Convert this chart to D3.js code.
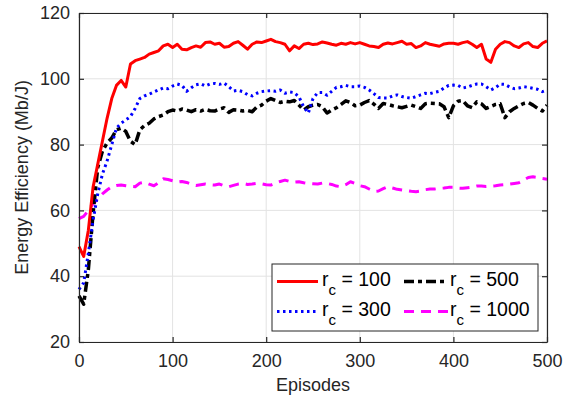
<!DOCTYPE html>
<html>
<head>
<meta charset="utf-8">
<script src="https://cdn.jsdelivr.net/npm/d3@7"></script>
<style>
  html, body { margin: 0; padding: 0; background: #fff; }
  svg { display: block; font-family: "Liberation Sans", Arial, Helvetica, sans-serif; }
</style>
</head>
<body>
<svg id="chart" width="569" height="398"></svg>
<script>
// ---- data (sampled every 5 episodes) ----
const episodes = d3.range(0, 501, 5);
const rc100 = [49,46,54,67,74,81,88,94,98,99.5,97.5,104.5,105.5,106,106.5,107.5,108,108.5,110,110.5,
  109.5,110.5,109,108.8,109.5,110,109.6,111,111.2,110.5,110.8,109.6,109.8,110.8,111.3,110.2,109,110.5,111.2,111,
  111.5,112,111.3,111,110.5,108.5,110,109.2,110.5,110.8,110.4,110.6,111.2,110.9,110.5,110.2,110.8,110.5,111,110.6,
  111,110.5,110,109.8,109.5,110.5,110.9,110.6,111,111.4,110.5,110.7,109.5,110,111,110.5,110.2,109.9,110.6,110.8,
  110.8,110.5,111,111.3,110.5,109.5,110.5,106,105,109,110.5,111.3,111,110,109.5,110.6,111,109.8,109.5,110.8,111.5];
const rc300 = [36,38,47,57,65,71,75,80,85,86.5,87.5,88.5,91,94,94.8,95.3,96,96.6,97.2,97,
  97.8,98.4,98,96.2,97.3,98.2,98.5,97.8,98.4,98.6,98.3,98.7,97.6,96.3,96.5,96.1,95.2,94.8,95.6,96.1,
  96.3,96.4,96.2,96.6,95.6,96,95.8,94.5,91.5,89.6,94,95.8,95.8,95,96.2,97.4,97.6,98,97.6,97.6,
  97.8,97.4,96.6,95.5,94.3,94.2,94.2,94.8,95.1,94.6,94.3,94.1,94.6,95.1,95.6,95.5,95.9,96.2,97.2,98,
  98.1,98,97.2,97.5,98,98.4,98.4,97.6,96.6,97.3,98.4,98.3,97.5,97,97.2,97.6,97.4,97.1,96.8,96.1,96.6];
const rc500 = [34,31.5,42,59,73,78,80.5,82,84.5,85,84,81,80,84.5,85.8,86.5,87.8,88.5,89,90,
  90.5,90.2,90.8,90.5,90,90.6,90.2,90.7,90.3,90.2,90.8,91.2,89.8,90.6,90.5,90.2,90.4,90,91.4,92,
  93.2,94,93.4,92.8,93.2,93,93.4,92,90.5,91.5,92,92.2,91.5,89.6,90.5,91.2,92.2,93.3,92.8,91.8,
  92,92.8,93.4,92.3,91,92.5,92.2,91.8,91.5,91.2,91.6,92,91.5,91,92.4,92.6,92.5,92.4,91.5,88.2,
  91.8,93.2,93.4,91.8,91.2,93,92.4,91,91.6,92.2,92.4,88.2,90,91,91.8,92.5,92.8,92,91,90.2,92];
const rc1000 = [57.5,58.2,60,62,63.5,65,66.2,67.2,67.6,67.7,67.5,67.3,67.2,68.3,68.6,68,67.5,68.4,69.6,69.4,
  69,68.6,68.8,68.5,68,67.6,67.8,68,67.8,67.7,68,67.5,67.2,67.6,68,68.2,67.9,68,68.2,68.1,
  67.8,67.7,68.3,68.8,69.2,68.8,68.6,68.7,68.4,68.2,68.1,68,68.3,68.2,67.9,67.4,67.2,67.8,68.7,68.2,
  67.5,67.2,66.5,65.8,65.9,66.6,67.2,66.8,66.4,66.2,66,65.8,65.7,65.9,66.3,66.5,66.5,66.7,66.8,67,
  67,66.8,66.7,66.9,67.1,67.4,67.4,67.3,67.4,67.5,67.7,67.8,68,68.2,68.4,69.2,70,70.2,70,69.7,69.5];
const seriesNames = ["100", "300", "500", "1000"];
const xTicks = [0, 100, 200, 300, 400, 500];
const yTicks = [20, 40, 60, 80, 100, 120];

// ---- layout ----
const svg = d3.select("#chart");
const margin = {left: 79, right: 22, top: 13, bottom: 56};
const W = 569, H = 398;
const iw = W - margin.left - margin.right, ih = H - margin.top - margin.bottom;
const x = d3.scaleLinear().domain([0, 500]).range([0, iw]);
const y = d3.scaleLinear().domain([20, 120]).range([ih, 0]);
const axisColor = "#262626";
const g = svg.append("g").attr("transform", `translate(${margin.left},${margin.top})`);

// grid
g.append("g").selectAll("line").data(xTicks).join("line")
  .attr("x1", d => x(d)).attr("x2", d => x(d)).attr("y1", 0).attr("y2", ih)
  .attr("stroke", "#e3e3e3").attr("stroke-width", 1);
g.append("g").selectAll("line").data(yTicks).join("line")
  .attr("y1", d => y(d)).attr("y2", d => y(d)).attr("x1", 0).attr("x2", iw)
  .attr("stroke", "#e3e3e3").attr("stroke-width", 1);

// series
const styles = [
  {data: rc100, color: "#ff0000", dash: null, w: 3},
  {data: rc300, color: "#0000ff", dash: "2.5,3.5", w: 3},
  {data: rc500, color: "#000000", dash: "10,4,4,4", w: 3.5},
  {data: rc1000, color: "#ff00ff", dash: "10,7", w: 3}
];
const line = d3.line().x((d, i) => x(episodes[i])).y(d => y(d));
[3, 2, 1, 0].forEach(k => {
  const s = styles[k];
  g.append("path").datum(s.data).attr("d", line)
    .attr("fill", "none").attr("stroke", s.color).attr("stroke-width", s.w)
    .attr("stroke-dasharray", s.dash).attr("stroke-linejoin", "round");
});

// axes
const fs = 18;
const xAxis = d3.axisBottom(x).tickValues(xTicks).tickSizeInner(-5).tickSizeOuter(0).tickPadding(12);
const yAxis = d3.axisLeft(y).tickValues(yTicks).tickSizeInner(-5).tickSizeOuter(0).tickPadding(9);
const gx = g.append("g").attr("transform", `translate(0,${ih})`).call(xAxis);
const gy = g.append("g").call(yAxis);
const gxt = g.append("g").call(d3.axisTop(x).tickValues(xTicks).tickSizeInner(-5).tickSizeOuter(0).tickFormat(""));
const gyr = g.append("g").attr("transform", `translate(${iw},0)`).call(d3.axisRight(y).tickValues(yTicks).tickSizeInner(-5).tickSizeOuter(0).tickFormat(""));
[gx, gy, gxt, gyr].forEach(a => {
  a.select(".domain").attr("stroke", axisColor).attr("stroke-width", 1.2);
  a.selectAll(".tick line").attr("stroke", axisColor).attr("stroke-width", 1.2);
  a.selectAll("text").attr("fill", axisColor).attr("font-size", fs).attr("font-family", "Liberation Sans, Arial, sans-serif");
});

// axis labels
svg.append("text").attr("x", margin.left + iw / 2).attr("y", 391)
  .attr("text-anchor", "middle").attr("font-size", fs).attr("fill", axisColor)
  .text("Episodes");
svg.append("text").attr("transform", `translate(28,${margin.top + ih / 2}) rotate(-90)`)
  .attr("text-anchor", "middle").attr("font-size", fs).attr("fill", axisColor)
  .text("Energy Efficiency (Mb/J)");

// legend
const lg = svg.append("g");
lg.append("rect").attr("x", 272).attr("y", 264).attr("width", 266).attr("height", 67)
  .attr("fill", "#fff").attr("stroke", axisColor).attr("stroke-width", 1);
const legPos = [
  {lx1: 277, lx2: 318, tx: 322, ly: 281.5},
  {lx1: 277, lx2: 318, tx: 322, ly: 311.5},
  {lx1: 404, lx2: 448, tx: 450, ly: 281.5},
  {lx1: 404, lx2: 448, tx: 450, ly: 311.5}
];
styles.forEach((s, i) => {
  const p = legPos[i];
  lg.append("line").attr("x1", p.lx1).attr("x2", p.lx2).attr("y1", p.ly).attr("y2", p.ly)
    .attr("stroke", s.color).attr("stroke-width", s.w).attr("stroke-dasharray", s.dash);
  const t = lg.append("text").attr("x", p.tx).attr("y", p.ly + 4).attr("font-size", 19.5).attr("fill", "#000");
  t.append("tspan").text("r");
  t.append("tspan").attr("font-size", 15).attr("dy", 9).text("c");
  t.append("tspan").attr("dy", -9).text(" = " + seriesNames[i]);
});
</script>
</body>
</html>
